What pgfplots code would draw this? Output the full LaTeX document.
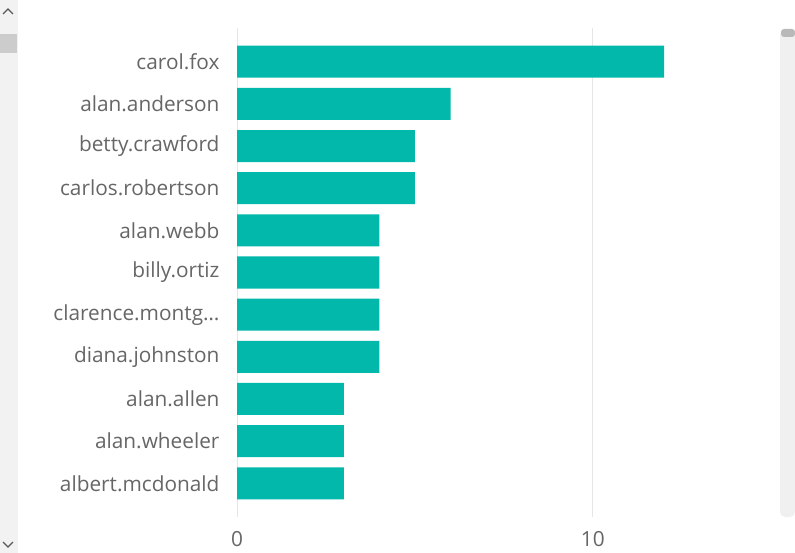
\documentclass[border=0pt]{standalone}
\usepackage{fontspec}
\setmainfont{Open Sans}
\usepackage{pgfplots}
\pgfplotsset{compat=1.18}
\definecolor{bar}{HTML}{01B8AA}
\definecolor{lbl}{HTML}{666666}
\definecolor{grd}{HTML}{E6E6E6}
\begin{document}
\begin{tikzpicture}
\path[use as bounding box] (0pt,0pt) rectangle (795pt,-553pt);
% left scrollbar
\fill[gray!10] (0pt,0pt) rectangle (18pt,-553pt);
\fill[gray!40] (0pt,-34pt) rectangle (17pt,-53pt);
\draw[gray!70!black, line width=1.2pt] (3pt,-14pt) -- (8pt,-9pt) -- (13pt,-14pt);
\draw[gray!70!black, line width=1.2pt] (3pt,-542pt) -- (8pt,-547pt) -- (13pt,-542pt);
% right scrollbar
\fill[gray!12, rounded corners=5pt] (780pt,-30pt) rectangle (795pt,-517pt);
\fill[gray!55, rounded corners=3pt] (781pt,-29pt) rectangle (795pt,-37pt);
\begin{axis}[
  at={(237pt,-517pt)}, anchor=south west,
  scale only axis, width=516pt, height=489pt,
  xbar, bar width=0.76,
  xmin=0, xmax=14.5, ymin=-0.8, ymax=10.8, y dir=reverse,
  ytick={0,1,2,3,4,5,6,7,8,9,10},
  yticklabels={carol.fox,alan.anderson,betty.crawford,carlos.robertson,alan.webb,billy.ortiz,{clarence.montg\ldots},diana.johnston,alan.allen,alan.wheeler,albert.mcdonald},
  xtick={0,10},
  axis line style={draw=none},
  major tick length=0pt,
  xmajorgrids, grid style={grd, line width=1pt},
  ticklabel style={font=\fontsize{20.8}{25}\selectfont, text=lbl},
  yticklabel style={xshift=-14pt},
  xticklabel style={yshift=-11pt},
  /pgf/number format/assume math mode=true,
  clip=false]
\addplot[fill=bar, draw=none] coordinates {(12,0) (6,1) (5,2) (5,3) (4,4) (4,5) (4,6) (4,7) (3,8) (3,9) (3,10)};
\end{axis}
\end{tikzpicture}
\end{document}
